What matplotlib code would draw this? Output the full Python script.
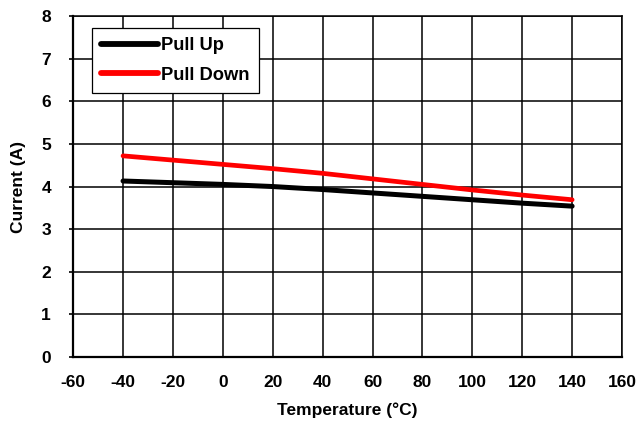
import matplotlib as mpl
mpl.use('Agg')
from matplotlib import pyplot as plt
import numpy as np

plt.rcParams['font.family'] = ['Liberation Sans', 'DejaVu Sans']
plt.rcParams['font.weight'] = 'bold'

# data
temp = [-40, -20, 0, 20, 40, 60, 80, 100, 120, 140]
pull_up = [4.13, 4.09, 4.05, 4.00, 3.93, 3.85, 3.77, 3.69, 3.61, 3.54]
pull_down = [4.72, 4.62, 4.52, 4.42, 4.31, 4.18, 4.05, 3.92, 3.80, 3.69]

xticks = np.arange(-60, 161, 20)
yticks = np.arange(0, 9, 1)

fs = 12.5

fig = plt.figure(figsize=(6.36, 4.23), dpi=100)
ax = fig.add_axes([0.115, 0.156, 0.863, 0.806])

ax.plot(temp, pull_up, '-', color='black', linewidth=3.6, solid_capstyle='round', label='Pull Up', zorder=3)
ax.plot(temp, pull_down, '-', color='#ff0000', linewidth=3.4, solid_capstyle='round', label='Pull Down', zorder=3)

ax.set_xlim(-60, 160)
ax.set_ylim(0, 8)
ax.set_xticks(xticks)
ax.set_yticks(yticks)
ax.set_xticklabels([str(t) for t in xticks], fontsize=fs, fontweight='bold')
ax.set_yticklabels([str(t) for t in yticks], fontsize=fs, fontweight='bold')

ax.grid(True, color='black', linewidth=1.1)
ax.set_axisbelow(True)
ax.tick_params(axis='x', length=0, pad=13)
ax.tick_params(axis='y', length=3, width=1.2, direction='out', pad=13)

for s in ax.spines.values():
    s.set_linewidth(1.1)
ax.spines['left'].set_linewidth(1.6)
ax.spines['bottom'].set_linewidth(1.6)

ax.set_xlabel('Temperature (°C)', fontsize=fs, fontweight='bold', labelpad=9)
ax.set_ylabel('Current (A)', fontsize=fs, fontweight='bold', labelpad=11)

leg = ax.legend(loc='upper left', bbox_to_anchor=(0.034, 0.965), fancybox=False,
                framealpha=1, edgecolor='black', fontsize=13.2, handlelength=3.1,
                borderpad=0.5, labelspacing=0.68, handletextpad=0.2, borderaxespad=0)
leg.get_frame().set_linewidth(0.9)
for t in leg.get_texts():
    t.set_fontweight('bold')
for h in leg.get_lines():
    h.set_linewidth(4.2)

plt.savefig('out.png', dpi=100)
plt.close()
